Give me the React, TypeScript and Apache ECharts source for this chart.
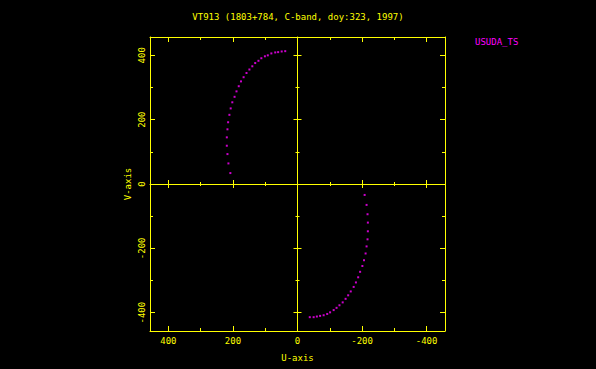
import React, { useEffect, useRef } from "react";
import * as echarts from "echarts";

const TITLE = "VT913 (1803+784, C-band, doy:323, 1997)";
const SERIES_NAME = "USUDA_TS";
const X_NAME = "U-axis";
const Y_NAME = "V-axis";
const AXIS_MIN = -457;
const AXIS_MAX = 457;
const MAJOR_TICKS = [-400, -200, 0, 200, 400];
const MINOR_TICKS = [-300, -100, 100, 300];

// upper-left arc (U, V)
const uUpper = [38, 49, 60, 69, 81, 92, 101, 112, 121, 131, 140, 149, 158, 167, 175, 182, 189, 195, 202, 207, 211, 215, 217, 219, 219, 217, 214, 208];
const vUpper = [413, 412, 410, 409, 406, 400, 397, 391, 383, 376, 366, 356, 345, 332, 319, 304, 288, 271, 254, 235, 215, 192, 170, 145, 119, 93, 64, 34];
// lower-right arc (U, V)
const uLower = [-208, -214, -217, -218, -218, -217, -214, -211, -206, -201, -194, -188, -181, -174, -165, -157, -149, -140, -130, -121, -112, -101, -92, -81, -70, -60, -50, -38];
const vLower = [-34, -65, -94, -120, -147, -172, -194, -216, -237, -255, -273, -290, -306, -320, -334, -346, -357, -368, -377, -385, -392, -399, -404, -408, -410, -412, -414, -414];

const YELLOW = "#ffff00";
const MAGENTA = "#ff00ff";
const FONT = "DejaVu Sans Mono";

function axis(dim: "x" | "y", opts: any) {
  const base: any = {
    type: "value",
    min: AXIS_MIN,
    max: AXIS_MAX,
    gridIndex: 0,
    position: opts.position,
    splitLine: { show: false },
    axisLine: {
      show: !!opts.line,
      onZero: !!opts.onZero,
      lineStyle: { color: YELLOW, width: 1 },
    },
    axisTick: {
      show: true,
      customValues: opts.ticks,
      inside: opts.inside,
      length: opts.len,
      lineStyle: { color: YELLOW, width: 1 },
    },
    axisLabel: { show: false },
  };
  if (opts.onZero) base.axisLine.onZeroAxisIndex = 0;
  if (dim === "x") base.inverse = true;
  if (opts.labels) {
    base.axisLabel = {
      show: true,
      customValues: MAJOR_TICKS,
      color: YELLOW,
      fontFamily: FONT,
      fontSize: 9,
      margin: dim === "x" ? 5 : 4,
      rotate: dim === "y" ? 90 : 0,
    };
    base.name = opts.name;
    base.nameLocation = "middle";
    base.nameGap = dim === "x" ? 22 : 18;
    base.nameRotate = dim === "y" ? 90 : 0;
    base.nameTextStyle = { color: YELLOW, fontFamily: FONT, fontSize: 9 };
  }
  return base;
}

function axesFor(dim: "x" | "y") {
  const lo = dim === "x" ? "bottom" : "left";
  const hi = dim === "x" ? "top" : "right";
  return [
    axis(dim, { position: lo, line: true, ticks: MAJOR_TICKS, len: 5, inside: true, labels: true, name: dim === "x" ? X_NAME : Y_NAME }),
    axis(dim, { position: lo, ticks: MINOR_TICKS, len: 3, inside: true }),
    axis(dim, { position: hi, line: true, ticks: MAJOR_TICKS, len: 5, inside: true }),
    axis(dim, { position: hi, ticks: MINOR_TICKS, len: 3, inside: true }),
    axis(dim, { position: lo, line: true, onZero: true, ticks: MAJOR_TICKS, len: 4, inside: true }),
    axis(dim, { position: lo, onZero: true, ticks: MAJOR_TICKS, len: 4, inside: false }),
    axis(dim, { position: lo, onZero: true, ticks: MINOR_TICKS, len: 2, inside: true }),
    axis(dim, { position: lo, onZero: true, ticks: MINOR_TICKS, len: 2, inside: false }),
  ];
}

export default function App() {
  const ref = useRef<HTMLDivElement>(null);
  useEffect(() => {
    if (!ref.current) return;
    const chart = echarts.init(ref.current, null, { renderer: "svg" });
    const data: number[][] = [];
    uUpper.forEach((u, i) => data.push([u, vUpper[i]]));
    uLower.forEach((u, i) => data.push([u, vLower[i]]));
    chart.setOption({
      animation: false,
      backgroundColor: "#000000",
      title: {
        text: TITLE,
        left: "center",
        top: 7,
        textStyle: { color: YELLOW, fontFamily: FONT, fontSize: 9, fontWeight: "normal" },
      },
      legend: {
        data: [SERIES_NAME],
        left: 465,
        top: 32,
        icon: "none",
        itemWidth: 0,
        itemHeight: 0,
        textStyle: { color: MAGENTA, fontFamily: FONT, fontSize: 9 },
      },
      grid: { left: 150, right: 151, top: 37, bottom: 38 },
      xAxis: axesFor("x"),
      yAxis: axesFor("y"),
      series: [
        {
          name: SERIES_NAME,
          type: "scatter",
          symbol: "rect",
          symbolSize: 2,
          itemStyle: { color: MAGENTA },
          data,
        },
      ],
    });
    return () => chart.dispose();
  }, []);
  return (
    <div
      ref={ref}
      style={{ position: "fixed", left: 0, top: 0, width: 596, height: 369, background: "#000" }}
    />
  );
}
